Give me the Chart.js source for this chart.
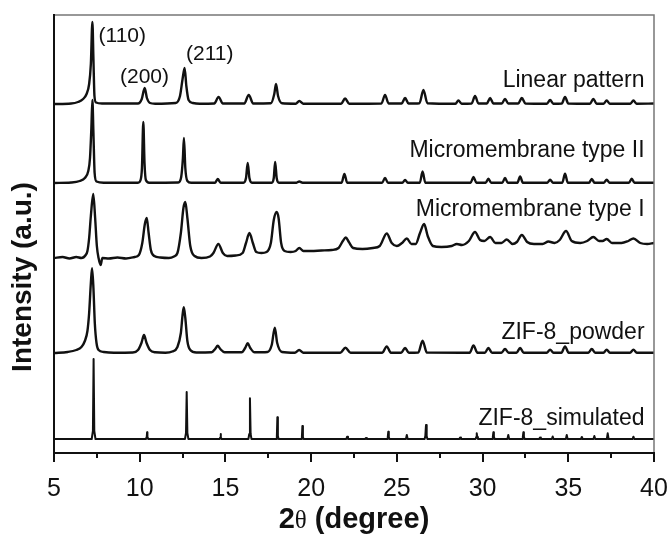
<!DOCTYPE html>
<html>
<head>
<meta charset="utf-8">
<script src="https://cdn.jsdelivr.net/npm/chart.js@4.4.1/dist/chart.umd.min.js"></script>
<style>
  html, body { margin: 0; padding: 0; background: #fff; }
  #wrap { width: 670px; height: 535px; }
</style>
</head>
<body>
<div id="wrap"><canvas id="xrd" width="670" height="535"></canvas></div>
<script>
// x ticks (2θ, degree)
const xTicks = [5, 10, 15, 20, 25, 30, 35, 40];

// trace names, top to bottom, and vertical offsets (a.u.)
const names = ["Linear pattern", "Micromembrane type II", "Micromembrane type I", "ZIF-8_powder", "ZIF-8_simulated"];
const offsets = [349, 270, 195, 100, 14];

// [2θ, intensity above baseline]
const linearPattern = [
  [5,0],[6,0.5],[6.4,2],[6.7,5],[6.9,10],[7.05,20],[7.15,40],[7.24,82],[7.3,45],[7.36,8],[7.45,1.5],[7.8,0.5],
  [9.9,0.5],[10.12,5],[10.29,16],[10.42,6],[10.6,1],[10.9,0.3],
  [12.1,1],[12.35,8],[12.5,25],[12.62,36],[12.72,18],[12.85,4],[13.1,1],[13.5,0.3],
  [14.35,0.5],[14.6,7],[14.85,0.5],
  [16.1,0.5],[16.36,9],[16.62,0.5],
  [17.65,0.7],[17.85,10],[17.95,20],[18.07,8],[18.3,0.7],
  [19.1,0.3],[19.31,3],[19.55,0.3],
  [21.75,0.3],[21.98,5.5],[22.22,0.3],
  [24.1,0.5],[24.31,9],[24.52,0.5],
  [25.28,0.5],[25.48,6],[25.68,0.5],
  [26.32,0.8],[26.55,14],[26.78,0.8],
  [28.42,0.3],[28.59,3.5],[28.78,0.3],
  [29.36,0.5],[29.56,8],[29.76,0.5],
  [30.25,0.5],[30.44,6],[30.63,0.5],
  [31.12,0.5],[31.31,5],[31.5,0.5],
  [32.08,0.5],[32.29,6],[32.5,0.5],
  [33.75,0.3],[33.94,4],[34.13,0.3],
  [34.62,0.5],[34.81,7],[35.0,0.5],
  [36.27,0.3],[36.46,5],[36.65,0.3],
  [37.06,0.3],[37.24,3.5],[37.42,0.3],
  [38.62,0.3],[38.8,3.5],[38.98,0.3],[40,0.5]
];

const membraneII = [
  [5,0],[6,0.5],[6.5,2],[6.8,5],[7.0,12],[7.1,25],[7.18,55],[7.24,83],[7.3,50],[7.37,10],[7.48,1.5],[7.9,0.3],
  [9.9,0.3],[10.05,3],[10.13,15],[10.21,61],[10.28,20],[10.36,3],[10.55,0.3],
  [12.25,0.5],[12.42,6],[12.52,25],[12.58,45],[12.66,15],[12.78,2],[13.0,0.3],
  [14.4,0.3],[14.55,4],[14.72,0.3],
  [16.05,0.3],[16.2,5],[16.3,20],[16.4,5],[16.55,0.3],
  [17.7,0.3],[17.82,5],[17.9,21],[17.99,5],[18.12,0.3],
  [19.15,0.3],[19.31,1.5],[19.5,0.3],
  [21.78,0.3],[21.94,9],[22.1,0.3],
  [24.14,0.3],[24.31,5],[24.48,0.3],
  [25.32,0.3],[25.48,3],[25.64,0.3],
  [26.34,0.3],[26.5,11.5],[26.66,0.3],
  [29.3,0.3],[29.47,6],[29.64,0.3],
  [30.18,0.3],[30.34,4.3],[30.5,0.3],
  [31.15,0.3],[31.31,5],[31.47,0.3],
  [32.03,0.3],[32.19,6.6],[32.35,0.3],
  [33.78,0.3],[33.94,3.3],[34.1,0.3],
  [34.65,0.3],[34.81,9.3],[34.97,0.3],
  [36.21,0.3],[36.37,4],[36.53,0.3],
  [37.08,0.3],[37.24,3.3],[37.4,0.3],
  [38.54,0.3],[38.7,4.3],[38.86,0.3],[40,0.3]
];

const membraneI = [
  [5,0],[5.5,1],[5.9,-0.5],[6.3,1],[6.6,0],[6.85,3],[6.95,7],[7.05,20],[7.15,42],[7.29,64],[7.4,40],[7.5,12],[7.6,0],[7.72,-7],[7.82,0],
  [8.2,-0.5],[8.7,0.5],[9.2,-0.5],[9.7,1],
  [9.95,3],[10.15,15],[10.3,34],[10.41,40],[10.52,25],[10.65,8],[10.85,2],[11.2,0.5],[11.7,0],[12.0,1.5],
  [12.2,5],[12.4,25],[12.55,50],[12.66,56],[12.78,40],[12.95,12],[13.2,2],[13.6,0],[14.1,1.5],
  [14.3,5],[14.59,14],[14.85,5],[15.1,2],[15.6,2.5],[16.0,5],
  [16.2,15],[16.4,25],[16.6,15],[16.8,6],[17.1,5],[17.4,6],
  [17.65,15],[17.82,38],[17.99,46],[18.1,40],[18.25,15],[18.45,7],[18.8,6],
  [19.1,7],[19.31,10],[19.55,7],[20,7],[20.6,7.5],[21.2,8],[21.6,10],
  [21.85,17],[22.02,20.5],[22.2,16],[22.45,10],[23,9],[23.6,10],[24.0,12],
  [24.41,24.5],[24.7,15],[25.0,12],[25.3,15],[25.58,19.5],[25.85,14],[26.1,14],
  [26.35,25],[26.59,34],[26.8,22],[27.1,12],[27.6,11],[28.2,12],[28.5,14],[28.8,13],
  [29.2,17],[29.56,26],[29.85,18],[30.1,17],[30.44,21],[30.75,15],[31.1,15],[31.41,18.5],[31.75,14],
  [32.0,16],[32.29,23],[32.6,16],[33.0,14],[33.5,14],[33.84,16.5],[34.2,15],[34.5,18],[34.87,27],[35.2,17],
  [35.7,15],[36.1,17],[36.46,21],[36.8,17],[37.0,17],[37.24,19],[37.55,15],[38.1,15],[38.5,17],[38.8,19.5],
  [39.2,15],[39.6,14],[40,15]
];

const zifPowder = [
  [5,0],[5.8,1],[6.3,3],[6.6,6],[6.8,12],[6.95,22],[7.05,40],[7.15,70],[7.22,84.7],[7.3,65],[7.38,30],[7.48,10],[7.6,3],[7.9,1],[8.5,0.3],
  [9.6,0.5],[9.9,3],[10.1,10],[10.25,18],[10.4,10],[10.6,3],[10.9,0.7],[11.5,0.3],
  [11.9,1.5],[12.2,6],[12.4,20],[12.5,38],[12.57,45.7],[12.66,35],[12.78,12],[12.95,3],[13.3,0.5],
  [14.2,0.7],[14.4,4],[14.55,7.3],[14.7,4],[14.95,0.7],
  [15.95,0.7],[16.15,5],[16.3,9.7],[16.45,5],[16.7,0.7],
  [17.45,1],[17.7,8],[17.88,25.3],[18.02,10],[18.3,1],
  [19.05,0.3],[19.3,3],[19.55,0.3],
  [21.7,0.3],[22,5.3],[22.3,0.3],
  [24.15,0.3],[24.41,6.6],[24.65,0.3],
  [25.25,0.3],[25.48,5],[25.7,0.3],
  [26.25,0.5],[26.5,12.3],[26.75,0.5],
  [29.25,0.3],[29.47,7.6],[29.7,0.3],
  [30.14,0.3],[30.34,5],[30.55,0.3],
  [31.1,0.3],[31.31,4],[31.52,0.3],
  [31.98,0.3],[32.19,5],[32.4,0.3],
  [33.74,0.3],[33.94,3.3],[34.14,0.3],
  [34.6,0.3],[34.81,6.6],[35.02,0.3],
  [36.17,0.3],[36.37,4],[36.57,0.3],
  [37.05,0.3],[37.24,3.3],[37.43,0.3],
  [38.6,0.3],[38.8,3.3],[39,0.3],[40,0.3]
];

const zifSimulated = [
  [5,0],
  [7.2,0],[7.27,8],[7.31,80],[7.35,8],[7.42,0],
  [10.36,0],[10.41,2],[10.43,6.7],[10.45,2],[10.5,0],
  [12.64,0],[12.7,6],[12.74,47],[12.78,6],[12.84,0],
  [14.66,0],[14.7,1.5],[14.72,5],[14.74,1.5],[14.78,0],
  [16.34,0],[16.39,5],[16.43,40.7],[16.47,5],[16.52,0],
  [17.96,0],[18.0,3],[18.03,21.7],[18.06,3],[18.1,0],
  [19.42,0],[19.46,2],[19.49,13],[19.52,2],[19.56,0],
  [22.05,0],[22.1,2.3],[22.15,0],
  [23.15,0],[23.2,1],[23.25,0],
  [24.43,0],[24.47,2],[24.5,7.3],[24.53,2],[24.57,0],
  [25.53,0],[25.58,4],[25.63,0],
  [26.62,0],[26.66,3],[26.7,14],[26.74,3],[26.78,0],
  [28.64,0],[28.69,1.5],[28.74,0],
  [29.59,0],[29.63,2],[29.66,5.7],[29.69,2],[29.73,0],
  [30.56,0],[30.6,2.5],[30.63,6.7],[30.66,2.5],[30.7,0],
  [31.45,0],[31.5,4],[31.55,0],
  [32.31,0],[32.35,2.5],[32.38,6.7],[32.41,2.5],[32.45,0],
  [33.3,0],[33.35,1.5],[33.4,0],
  [34.04,0],[34.09,2.5],[34.14,0],
  [34.86,0],[34.91,4],[34.96,0],
  [35.74,0],[35.79,2],[35.84,0],
  [36.47,0],[36.52,3],[36.57,0],
  [37.25,0],[37.3,5.7],[37.35,0],
  [38.75,0],[38.8,2.3],[38.85,0],
  [40,0]
];

// hkl labels: [text, 2θ where text starts, height (a.u.) of text baseline]
const hklLabels = [["(110)", 7.6, 411], ["(200)", 8.85, 370], ["(211)", 12.7, 393]];

const traces = [linearPattern, membraneII, membraneI, zifPowder, zifSimulated];

const datasets = traces.map((pts, i) => ({
  label: names[i],
  data: pts.map(p => ({ x: p[0], y: p[1] + offsets[i] })),
  borderColor: "#111",
  borderWidth: i === 4 ? 2 : 2.4,
  borderJoinStyle: "round",
  borderCapStyle: "round",
  pointRadius: 0,
  fill: false,
  tension: 0,
  cubicInterpolationMode: i === 4 ? "default" : "monotone"
}));

const FONT = "'Liberation Sans', Arial, Helvetica, sans-serif";

const decor = {
  id: "decor",
  afterDraw(chart) {
    const { ctx, chartArea: a, scales } = chart;
    const xs = scales.x, ys = scales.y;
    ctx.save();
    // frame
    ctx.lineCap = "square";
    ctx.strokeStyle = "#777";
    ctx.lineWidth = 1.5;
    ctx.beginPath();
    ctx.moveTo(a.left, a.top); ctx.lineTo(a.right, a.top); ctx.lineTo(a.right, a.bottom);
    ctx.stroke();
    ctx.strokeStyle = "#111";
    ctx.lineWidth = 2;
    ctx.beginPath();
    ctx.moveTo(a.left, a.top); ctx.lineTo(a.left, a.bottom); ctx.lineTo(a.right, a.bottom);
    ctx.stroke();
    // x ticks, major and minor, outward
    ctx.lineCap = "butt";
    for (let v = xTicks[0]; v <= xTicks[xTicks.length - 1] + 0.01; v += 2.5) {
      const px = Math.round(xs.getPixelForValue(v));
      const len = xTicks.includes(v) ? 9 : 5;
      ctx.beginPath();
      ctx.moveTo(px, a.bottom); ctx.lineTo(px, a.bottom + len);
      ctx.stroke();
    }
    // trace names
    ctx.fillStyle = "#111";
    ctx.font = "23px " + FONT;
    ctx.textAlign = "right";
    ctx.textBaseline = "alphabetic";
    const nameY = [87, 157, 216, 339, 425];
    names.forEach((n, i) => {
      ctx.fillText(n, xs.getPixelForValue(39.45), nameY[i]);
    });
    // hkl labels
    ctx.font = "21px " + FONT;
    ctx.textAlign = "left";
    hklLabels.forEach(([t, x, y]) => {
      ctx.fillText(t, xs.getPixelForValue(x), ys.getPixelForValue(y));
    });
    // y title
    ctx.save();
    ctx.translate(23, 277);
    ctx.rotate(-Math.PI / 2);
    ctx.textAlign = "center";
    ctx.textBaseline = "middle";
    ctx.font = "bold 28px " + FONT;
    ctx.fillText("Intensity (a.u.)", 0, 0);
    ctx.restore();
    // x title: bold "2", plain theta, bold rest
    const cx = (a.left + a.right) / 2, ty = 528;
    const p1 = "2", p2 = "\u03b8", p3 = " (degree)";
    ctx.font = "bold 29px " + FONT;
    const w1 = ctx.measureText(p1).width, w3 = ctx.measureText(p3).width;
    ctx.font = "25px 'Liberation Serif', 'Times New Roman', serif";
    const w2 = ctx.measureText(p2).width;
    let x0 = cx - (w1 + w2 + w3) / 2;
    ctx.font = "bold 29px " + FONT;
    ctx.fillText(p1, x0, ty);
    ctx.font = "25px 'Liberation Serif', 'Times New Roman', serif";
    ctx.fillText(p2, x0 + w1, ty);
    ctx.font = "bold 29px " + FONT;
    ctx.fillText(p3, x0 + w1 + w2, ty);
    ctx.restore();
  }
};

new Chart(document.getElementById("xrd"), {
  type: "line",
  data: { datasets },
  options: {
    responsive: false,
    animation: false,
    parsing: true,
    layout: { padding: { top: 15, right: 0, left: 0, bottom: 0 } },
    plugins: { legend: { display: false }, tooltip: { enabled: false } },
    scales: {
      x: {
        type: "linear",
        min: 5, max: 40,
        afterBuildTicks: s => { s.ticks = xTicks.map(v => ({ value: v })); },
        afterFit: s => { s.height = 82; s.paddingRight = 16; s.paddingLeft = 0; },
        grid: { display: false },
        border: { display: false },
        ticks: { color: "#111", padding: 13, maxRotation: 0, font: { size: 25, family: FONT } }
      },
      y: {
        min: 0, max: 438,
        afterFit: s => { s.width = 54; },
        grid: { display: false },
        border: { display: false },
        ticks: { display: false }
      }
    }
  },
  plugins: [decor]
});
</script>
</body>
</html>
